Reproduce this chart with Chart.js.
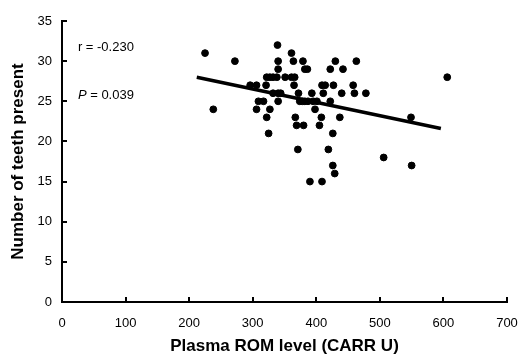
<!DOCTYPE html>
<html>
<head>
<meta charset="utf-8">
<script src="https://cdn.jsdelivr.net/npm/chart.js@4/dist/chart.umd.min.js"></script>
<style>
  body { margin: 0; background: #fff; }
  #wrap { width: 521px; height: 359px; position: relative; }
</style>
</head>
<body>
<div id="wrap"><canvas id="romChart"></canvas></div>
<script>
// Plasma ROM level (CARR U) vs teeth present
const romLevel = [
  339,
  225, 361,
  272, 340, 364, 379, 430, 463,
  340, 382, 386, 422, 442,
  322, 327, 332, 338, 351, 361, 366, 606,
  296, 306, 321, 365, 409, 414, 427, 458,
  332, 340, 344, 372, 393, 411, 440, 460, 478,
  309, 317, 340, 374, 378, 382, 387, 395, 401, 422,
  238, 306, 327, 398,
  322, 367, 408, 437, 549,
  369, 380, 405,
  325, 426,
  371, 419,
  506,
  426, 550,
  429,
  390, 409
];
const teethCount = [
  32,
  31, 31,
  30, 30, 30, 30, 30, 30,
  29, 29, 29, 29, 29,
  28, 28, 28, 28, 28, 28, 28, 28,
  27, 27, 27, 27, 27, 27, 27, 27,
  26, 26, 26, 26, 26, 26, 26, 26, 26,
  25, 25, 25, 25, 25, 25, 25, 25, 25, 25,
  24, 24, 24, 24,
  23, 23, 23, 23, 23,
  22, 22, 22,
  21, 21,
  19, 19,
  18,
  17, 17,
  16,
  15, 15
];
// fitted line end points
const fitX = [212, 596];
const fitY = [28.0, 21.6];

const xTicks = [0, 100, 200, 300, 400, 500, 600, 700];
const yTicks = [0, 5, 10, 15, 20, 25, 30, 35];

const statR = "r = -0.230";
const statP = "= 0.039";

const FONT = "'Liberation Sans', Arial, sans-serif";

const points = romLevel.map((x, i) => ({ x: x, y: teethCount[i] }));
const fitLine = fitX.map((x, i) => ({ x: x, y: fitY[i] }));

// ticks point inward, plus the r / P text
const innerTicks = {
  id: 'innerTicks',
  afterDraw(chart) {
    const ctx = chart.ctx;
    const xs = chart.scales.x, ys = chart.scales.y;
    const area = chart.chartArea;
    ctx.save();
    ctx.strokeStyle = '#000';
    ctx.lineWidth = 2;
    ctx.beginPath();
    xTicks.forEach(v => {
      const px = Math.round(xs.getPixelForValue(v));
      ctx.moveTo(px, area.bottom);
      ctx.lineTo(px, area.bottom - 5);
    });
    yTicks.forEach(v => {
      const py = Math.round(ys.getPixelForValue(v));
      ctx.moveTo(area.left, py);
      ctx.lineTo(area.left + 5, py);
    });
    ctx.stroke();

    ctx.fillStyle = '#000';
    ctx.textBaseline = 'middle';
    ctx.textAlign = 'left';
    const tx = xs.getPixelForValue(25);
    ctx.font = "13px " + FONT;
    ctx.fillText(statR, tx, ys.getPixelForValue(31.75));
    ctx.font = "italic 13px " + FONT;
    const py = ys.getPixelForValue(25.75);
    ctx.fillText("P", tx, py);
    const w = ctx.measureText("P ").width;
    ctx.font = "13px " + FONT;
    ctx.fillText(statP, tx + w, py);
    ctx.restore();
  }
};

new Chart(document.getElementById("romChart"), {
  type: 'scatter',
  data: {
    datasets: [{
      label: 'Subjects',
      data: points,
      backgroundColor: '#000',
      borderColor: '#000',
      pointRadius: 3.4,
      pointHoverRadius: 3.4
    }, {
      type: 'line',
      label: 'Fit',
      data: fitLine,
      borderColor: '#000',
      borderWidth: 3.5,
      pointRadius: 0,
      fill: false
    }]
  },
  options: {
    responsive: true,
    maintainAspectRatio: false,
    animation: false,
    layout: { autoPadding: false, padding: { top: 21, right: 14, left: 0, bottom: 0 } },
    plugins: {
      legend: { display: false },
      tooltip: { enabled: false }
    },
    scales: {
      x: {
        type: 'linear',
        min: 0,
        max: 700,
        afterBuildTicks: s => { s.ticks = xTicks.map(v => ({ value: v })); },
        afterFit: s => { s.height = 57; s.paddingLeft = 0; s.paddingRight = 0; },
        grid: { drawOnChartArea: false, drawTicks: false },
        border: { display: true, color: '#000', width: 2 },
        ticks: { color: '#000', padding: 14, font: { family: FONT, size: 13 }, maxRotation: 0 },
        title: {
          display: true,
          text: 'Plasma ROM level (CARR U)',
          color: '#000',
          font: { family: FONT, size: 17, weight: 'bold' },
          padding: { top: 0, bottom: 2 }
        }
      },
      y: {
        min: 0,
        max: 35,
        afterBuildTicks: s => { s.ticks = yTicks.map(v => ({ value: v })); },
        afterFit: s => { s.width = 62; s.paddingTop = 0; s.paddingBottom = 0; },
        grid: { drawOnChartArea: false, drawTicks: false },
        border: { display: true, color: '#000', width: 2 },
        ticks: { color: '#000', padding: 10, font: { family: FONT, size: 13 } },
        title: {
          display: true,
          text: 'Number of teeth present',
          color: '#000',
          font: { family: FONT, size: 17, weight: 'bold' },
          padding: { top: 8, bottom: 0 }
        }
      }
    }
  },
  plugins: [innerTicks]
});
</script>
</body>
</html>
